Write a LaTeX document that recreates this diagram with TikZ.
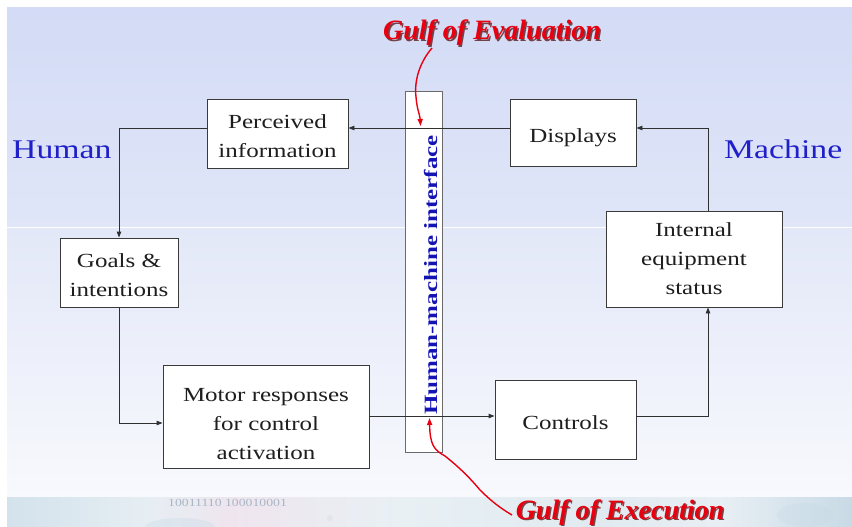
\documentclass[tikz,border=0pt]{standalone}
\usepackage{fontspec}
\usepackage{graphicx}
\setmainfont{Liberation Serif}[FakeStretch=1.25]
\newfontfamily\narrowserif{Liberation Serif}
\usetikzlibrary{arrows.meta}

% invisible strut that lowers a block's text inside its box
\newcommand{\liftbox}[1]{\rule{0pt}{#1pt}}

\definecolor{bgtop}{HTML}{D3DBF6}
\definecolor{bgmidA}{HTML}{E0E6F8}
\definecolor{bgmidB}{HTML}{E3E8F8}
\definecolor{bgbot}{HTML}{F8F9FD}
\definecolor{boxline}{HTML}{3A3A3A}
\definecolor{boxtext}{HTML}{1E1E1E}
\definecolor{connline}{HTML}{303030}
\definecolor{hmiline}{HTML}{6A6A6A}
\definecolor{hmiblue}{HTML}{1414B4}
\definecolor{sideblue}{HTML}{2020C8}
\definecolor{gulfred}{HTML}{E80010}
\definecolor{gulfshadow}{HTML}{4A0000}
\definecolor{bandA}{HTML}{D3E2EC}
\definecolor{bandB}{HTML}{E6EEF3}
\definecolor{bandC}{HTML}{EFE5EF}
\definecolor{bandD}{HTML}{E8F0F4}
\definecolor{bandE}{HTML}{E0EAF0}
\definecolor{bandF}{HTML}{E8EFF4}
\definecolor{bandG}{HTML}{C8DAE6}
\definecolor{bandtext}{HTML}{A8B6C4}

\begin{document}
\begin{tikzpicture}[x=1pt,y=-1pt,
  box/.style={draw=boxline, fill=white, line width=0.9pt, inner sep=0pt,
    align=center, text=boxtext, font=\fontsize{20}{29}\selectfont},
  conn/.style={draw=connline, line width=0.9pt,
    -{Triangle[length=6pt,width=4.5pt]}},
  gulf/.style={font=\narrowserif\bfseries\itshape\fontsize{28}{30}\selectfont,
    inner sep=0pt, anchor=base},
  redarr/.style={draw=gulfred, line width=1.4pt,
    -{Triangle[length=7pt,width=5pt]}},
  side/.style={text=sideblue, font=\fontsize{27}{30}\selectfont,
    inner sep=0pt, anchor=base west}
]
\useasboundingbox (0,0) rectangle (852,527);

% slide background
\fill[white] (0,0) rectangle (852,527);
\shade[top color=bgtop, bottom color=bgmidA] (7,8) rectangle (852,227);
\shade[top color=bgmidB, bottom color=bgbot] (7,228) rectangle (852,497);
\draw[white, line width=0.8pt] (7,227.5) -- (852,227.5);

% decorative footer band
\shade[left color=bandA, right color=bandB] (7,497) rectangle (150,527);
\shade[left color=bandB, right color=bandC] (150,497) rectangle (230,527);
\shade[left color=bandC, right color=bandD] (230,497) rectangle (400,527);
\shade[left color=bandD, right color=bandE] (400,497) rectangle (600,527);
\shade[left color=bandE, right color=bandF] (600,497) rectangle (720,527);
\shade[left color=bandF, right color=bandG] (720,497) rectangle (852,527);
\fill[bandG, opacity=0.35] (180,527) ellipse (35 and 9);
\fill[bandG, opacity=0.3] (330,518) circle (3);
\fill[bandG, opacity=0.35] (805,515) ellipse (28 and 12);
\node[anchor=base west, inner sep=0pt, text=bandtext,
  font=\fontsize{11}{12}\selectfont] (bandnum) at (168,506) {10011110 100010001};

% interface bar
\node[draw=hmiline, fill=white, line width=0.9pt, minimum width=37pt,
  minimum height=361pt, inner sep=0pt] (hmi) at (423.5,271.5) {};
\node[rotate=90, anchor=base, inner sep=0pt, text=hmiblue,
  font=\narrowserif\bfseries\fontsize{25}{27}\selectfont] (hmilabel)
  at (437,275) {\scalebox{1}[0.75]{Human-machine interface}};

% blocks
\node[box, minimum width=141pt, minimum height=69pt] (perc) at (277.5,133.5)
  {\liftbox{19.7}Perceived\\information};
\node[box, minimum width=118pt, minimum height=69pt] (goals) at (119,272.5)
  {\liftbox{19.7}Goals \&\\intentions};
\node[box, minimum width=206pt, minimum height=103pt] (motor) at (266,416.5)
  {\liftbox{27.7}Motor responses\\for control\\activation};
\node[box, minimum width=126pt, minimum height=67pt] (disp) at (573,132.5)
  {\liftbox{23.7}Displays};
\node[box, minimum width=176pt, minimum height=96pt] (status) at (694,259)
  {Internal\\equipment\\status};
\node[box, minimum width=141pt, minimum height=79pt] (ctrl) at (565.5,419.5)
  {\liftbox{19.7}Controls};

% routing levels
\coordinate (yTop) at (0,128);
\coordinate (yMot) at (0,423);
\coordinate (yMid) at (0,416);
\coordinate (xR) at (708,0);

% loop connectors
\draw[conn] (disp.west |- yTop) -- (perc.east |- yTop);
\draw[conn] (perc.west |- yTop) -| (goals.north);
\draw[conn] (goals.south) |- (motor.west |- yMot);
\draw[conn] (motor.east |- yMid) -- (ctrl.west |- yMid);
\draw[conn] (ctrl.east |- yMid) -| (xR |- status.south);
\draw[conn] (xR |- status.north) |- (disp.east |- yTop);

% side labels
\node[side] (human) at (12,158) {Human};
\node[side] (machine) at (724,158) {Machine};

% gulf labels with drop shadow
\node[gulf, text=gulfshadow, opacity=0.7] at (493.5,41.5) {Gulf of Evaluation};
\node[gulf, text=gulfred] (evalab) at (492,40) {Gulf of Evaluation};
\node[gulf, text=gulfshadow, opacity=0.7] at (621.5,520.5) {Gulf of Execution};
\node[gulf, text=gulfred] (exelab) at (620,519) {Gulf of Execution};

% gulf pointers
\coordinate (evalstart) at (432,48);
\coordinate (evaltip) at (420.5,126);
\coordinate (exestart) at (512,515);
\coordinate (exetip) at (429.5,418);
\draw[redarr] (evalstart) .. controls (420,62) and (414,80) .. (416,97)
  .. controls (417,110) and (420,115) .. (evaltip);
\draw[redarr] (exestart) .. controls (500,508) and (490,500) .. (480,490)
  .. controls (470,478) and (460,468) .. (445,456)
  .. controls (434,450) and (430,445) .. (exetip);
\end{tikzpicture}
\end{document}
